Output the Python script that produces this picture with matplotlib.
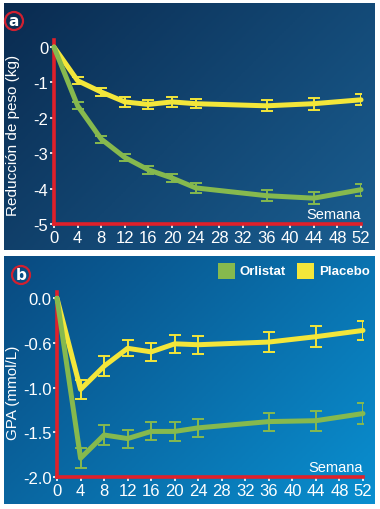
import numpy as np
import matplotlib
matplotlib.use('Agg')
import matplotlib.pyplot as plt
from matplotlib.colors import LinearSegmentedColormap
from matplotlib.patches import Circle, Rectangle

weeks = [0, 4, 8, 12, 16, 20, 24, 36, 44, 52]

# panel a: reduccion de peso (kg)
orlistat_a = [0, -1.66, -2.6, -3.12, -3.47, -3.7, -3.98, -4.2, -4.27, -4.03]
orlistat_a_err = [0, 0.1, 0.1, 0.11, 0.11, 0.12, 0.14, 0.15, 0.17, 0.17]
placebo_a = [0, -0.95, -1.27, -1.55, -1.62, -1.55, -1.6, -1.66, -1.6, -1.49]
placebo_a_err = [0, 0.1, 0.1, 0.14, 0.13, 0.13, 0.13, 0.16, 0.17, 0.16]

# panel b: GPA (mmol/L)
orlistat_b = [0, -1.79, -1.53, -1.57, -1.49, -1.49, -1.45, -1.38, -1.37, -1.29]
orlistat_b_err = [0, 0.11, 0.11, 0.1, 0.1, 0.11, 0.1, 0.1, 0.11, 0.12]
placebo_b = [0, -1.02, -0.76, -0.56, -0.6, -0.51, -0.52, -0.49, -0.43, -0.36]
placebo_b_err = [0, 0.11, 0.11, 0.09, 0.1, 0.1, 0.1, 0.11, 0.12, 0.11]

xticks = list(range(0, 53, 4))
yticks_a = [0, -1, -2, -3, -4, -5]
yticks_b = [0, -0.5, -1.0, -1.5, -2.0]
yticklabels_b = ['0.0', '-0.6', '-1.0', '-1.5', '-2.0']

GREEN = '#86b94e'
YELLOW = '#f3e63a'
RED = '#e0202a'
FONT = ['Liberation Sans', 'DejaVu Sans']

W, H = 380, 510
fig = plt.figure(figsize=(W / 100, H / 100), dpi=100, facecolor='white')


def px_rect(x0, y0, x1, y1):
    # pixel box (top-left origin) -> figure fraction
    return [x0 / W, 1 - y1 / H, (x1 - x0) / W, (y1 - y0) / H]


def background(rect, c1, c2):
    ax = fig.add_axes(px_rect(*rect))
    gx, gy = np.meshgrid(np.linspace(0, 1, 200), np.linspace(0, 1, 200))
    g = 0.6 * gx + 0.4 * gy
    cmap = LinearSegmentedColormap.from_list('bg', [c1, c2])
    ax.imshow(g, cmap=cmap, aspect='auto', extent=[0, 1, 0, 1], origin='upper')
    ax.axis('off')
    return ax


background((4, 4, 375, 251), '#0a2b50', '#1a5f92')
background((4, 257, 375, 505), '#094a80', '#0a8fd0')


def panel(rect, ylim, yticks, ylabels, data):
    ax = fig.add_axes(px_rect(*rect))
    ax.set_facecolor('none')
    for (y, e, c) in data:
        ax.plot(weeks, y, color=c, lw=3.6, solid_joinstyle='round',
                solid_capstyle='round', clip_on=False, zorder=3)
        ax.errorbar(weeks[1:], y[1:], yerr=e[1:], fmt='none', ecolor=c,
                    elinewidth=1.4, capsize=4, capthick=1.4, zorder=4)
    ax.set_xlim(0, 52)
    ax.set_ylim(*ylim)
    ax.set_xticks(xticks)
    ax.set_yticks(yticks)
    ax.set_yticklabels(ylabels)
    for s in ['top', 'right']:
        ax.spines[s].set_visible(False)
    for s in ['left', 'bottom']:
        ax.spines[s].set_color(RED)
        ax.spines[s].set_linewidth(2.6)
    ax.tick_params(colors='white', length=3, width=1.2, pad=1)
    for lab in ax.get_xticklabels() + ax.get_yticklabels():
        lab.set_family(FONT)
        lab.set_fontsize(12)
        lab.set_color('white')
    ax.text(1.0, 0.055, 'Semana', transform=ax.transAxes, ha='right', va='center',
            color='white', fontsize=10.5, family=FONT)
    return ax


ax_a = panel((54, 41, 361, 225), (-5, 0.2), yticks_a, [str(v) for v in yticks_a],
             [(placebo_a, placebo_a_err, YELLOW), (orlistat_a, orlistat_a_err, GREEN)])
ax_b = panel((57, 293, 363, 478), (-2, 0.07), yticks_b, yticklabels_b,
             [(placebo_b, placebo_b_err, YELLOW), (orlistat_b, orlistat_b_err, GREEN)])

# y axis titles
fig.text(13 / W, 1 - 135 / H, 'Reducción de peso (kg)', rotation=90, color='white',
         fontsize=11, family=FONT, ha='center', va='center')
fig.text(13 / W, 1 - 393 / H, 'GPA (mmol/L)', rotation=90, color='white',
         fontsize=11, family=FONT, ha='center', va='center')

# circled panel letters
for (cx, cy, letter) in [(14, 22, 'a'), (21, 276, 'b')]:
    fx, fy = cx / W, 1 - cy / H
    fig.patches.append(Circle((cx, H - cy), 9, transform=None, fill=False,
                              edgecolor='#d02030', lw=1.6))
    fig.text(fx, fy, letter, color='white', fontsize=11, fontweight='bold',
             ha='center', va='center', family='DejaVu Sans')

# legend
for (x0, label, c) in [(218, 'Orlistat', GREEN), (297, 'Placebo', YELLOW)]:
    fig.patches.append(Rectangle((x0 / W, 1 - 280 / H), 17 / W, 16 / H,
                                 transform=fig.transFigure, facecolor=c, edgecolor='none'))
    fig.text((x0 + 22) / W, 1 - 272 / H, label, color='white', fontsize=9.5,
             fontweight='bold', va='center', family=FONT)

fig.savefig('out.png', dpi=100, facecolor='white')
